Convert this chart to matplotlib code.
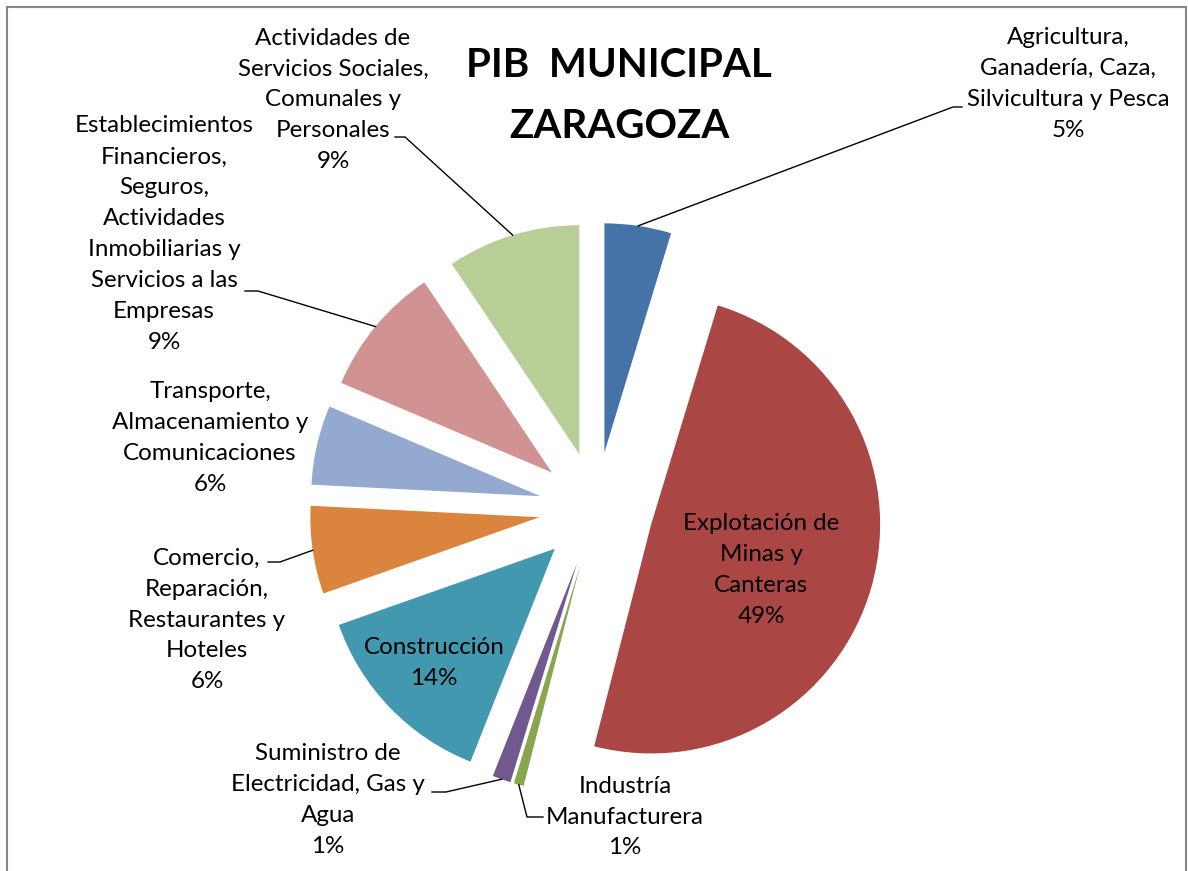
import numpy as np
import matplotlib
matplotlib.use('Agg')
import matplotlib.pyplot as plt
from matplotlib.patches import Rectangle

plt.rcParams['font.family'] = ['Lato', 'DejaVu Sans']

# data, clockwise from 12 o'clock
sectores = [
    'Agricultura,\nGanadería, Caza,\nSilvicultura y Pesca',
    'Explotación de\nMinas y\nCanteras',
    'Industría\nManufacturera',
    'Suministro de\nElectricidad, Gas y\nAgua',
    'Construcción',
    'Comercio,\nReparación,\nRestaurantes y\nHoteles',
    'Transporte,\nAlmacenamiento y\nComunicaciones',
    'Establecimientos\nFinancieros,\nSeguros,\nActividades\nInmobiliarias y\nServicios a las\nEmpresas',
    'Actividades de\nServicios Sociales,\nComunales y\nPersonales',
]
valores = [4.7, 49.3, 0.7, 1.3, 13.6, 6.2, 5.6, 9.2, 9.4]
colores = ['#4572A7', '#AA4643', '#89A54E', '#71588F', '#4198AF',
           '#DB843D', '#93A9CF', '#D19392', '#B9CD96']
titulo = 'PIB  MUNICIPAL\nZARAGOZA'

# layout (pixels from top-left of the image)
W, H = 1188, 871
CX, CY, R = 596, 509, 229
HALF = 1.5
label_pos = [(1068, 84), (761, 570), (625, 817), (328, 800), (434, 663),
             (207, 620), (210, 438), (164, 234), (333, 100)]
leaders = {
    0: [(953, 107), (962, 107)],
    2: [(527, 817), (543, 817)],
    3: [(446, 792), (432, 792)],
    5: [(280, 562), (268, 562)],
    7: [(258, 291), (245, 291)],
    8: [(405, 137), (395, 137)],
}


def px2data(x, y):
    return (x - CX) / R, (CY - y) / R


fig = plt.figure(figsize=(W / 100, H / 100), dpi=100)
side = 2 * HALF * R
ax = fig.add_axes([(CX - side / 2) / W, (H - CY - side / 2) / H, side / W, side / H])

wedges, _ = ax.pie(valores, colors=colores, startangle=90, counterclock=False,
                   explode=[0.25] * len(valores), radius=1,
                   wedgeprops=dict(linewidth=0))
ax.set_xlim(-HALF, HALF)
ax.set_ylim(-HALF, HALF)
ax.set_aspect('equal')
ax.axis('off')

total = sum(valores)
for i, (w, nombre, v) in enumerate(zip(wedges, sectores, valores)):
    texto = f'{nombre}\n{v / total * 100:.0f}%'
    x, y = label_pos[i]
    fig.text(x / W, 1 - y / H, texto, ha='center', va='center',
             fontsize=17.4, linespacing=1.58, color='black')
    if i in leaders:
        mid = np.deg2rad((w.theta1 + w.theta2) / 2)
        arc = (w.center[0] + w.r * np.cos(mid), w.center[1] + w.r * np.sin(mid))
        pts = [arc] + [px2data(px, py) for px, py in leaders[i]]
        xs, ys = zip(*pts)
        ax.plot(xs, ys, color='black', lw=1.0, clip_on=False)

fig.text(619 / W, 1 - 96 / H, titulo, ha='center', va='center',
         fontsize=29, fontweight='bold', linespacing=1.78)

fig.add_artist(Rectangle((7 / W, -0.05), (1186 - 7) / W, 1 - 7 / H + 0.05,
                         transform=fig.transFigure, fill=False,
                         edgecolor='#878787', linewidth=1.5))

fig.savefig('out.png', dpi=100, facecolor='white')
